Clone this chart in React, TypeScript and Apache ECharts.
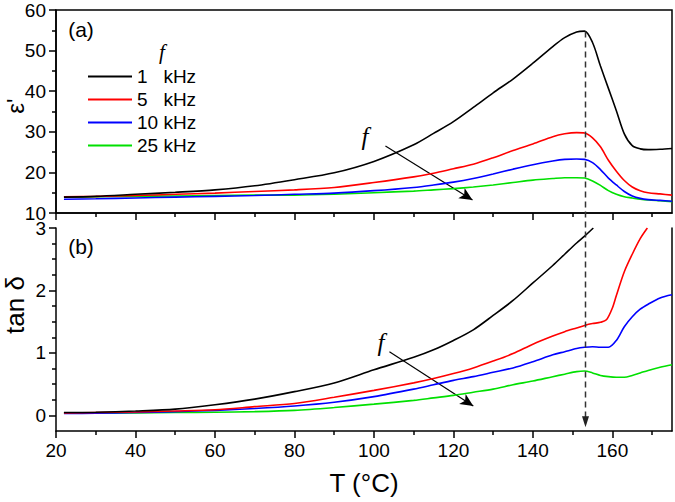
import React, { useEffect, useRef } from "react";
import * as echarts from "echarts";

// Temperature grid (°C) shared by most curves
const T = [22, 30, 40, 50, 60, 70, 80, 90, 100, 110, 115, 120, 125, 130, 135, 140, 145, 148, 151, 153, 155, 157, 159, 161, 163, 165, 167, 169, 172, 175];

// (a) real permittivity ε'
const eps1k = [13.9, 14.1, 14.6, 15.1, 15.7, 16.7, 18.2, 19.9, 22.7, 26.8, 29.6, 32.5, 36.0, 39.6, 43.0, 46.9, 51.0, 53.2, 54.6, 54.8, 52.0, 46.2, 40.7, 35.2, 29.5, 26.6, 25.8, 25.6, 25.7, 25.9];
const eps5k = [14.0, 14.1, 14.3, 14.6, 14.9, 15.3, 15.7, 16.3, 17.5, 18.9, 19.8, 20.9, 22.0, 23.6, 25.4, 27.0, 28.8, 29.5, 29.8, 29.7, 28.5, 26.3, 23.0, 20.3, 18.0, 16.4, 15.5, 15.0, 14.7, 14.4];
const eps10k = [13.4, 13.5, 13.7, 13.9, 14.1, 14.3, 14.6, 14.9, 15.5, 16.3, 16.9, 17.6, 18.5, 19.6, 20.8, 21.9, 22.8, 23.2, 23.3, 23.2, 22.4, 20.7, 18.6, 16.9, 15.3, 14.2, 13.6, 13.3, 13.1, 12.9];
const eps25k = [13.9, 14.0, 14.1, 14.2, 14.3, 14.4, 14.4, 14.6, 15.0, 15.4, 15.7, 16.0, 16.4, 16.9, 17.5, 18.1, 18.5, 18.7, 18.7, 18.6, 17.9, 16.8, 15.5, 14.6, 14.0, 13.7, 13.4, 13.2, 13.0, 12.8];

// (b) loss tangent tan δ
const Ttan1k = [22, 30, 40, 50, 60, 70, 80, 90, 100, 110, 115, 120, 125, 130, 135, 140, 145, 148, 151, 153, 155.2];
const tan1k = [0.045, 0.05, 0.07, 0.10, 0.17, 0.26, 0.38, 0.52, 0.73, 0.93, 1.05, 1.20, 1.37, 1.60, 1.84, 2.12, 2.40, 2.58, 2.76, 2.87, 3.0];
const Ttan5k = [22, 30, 40, 50, 60, 70, 80, 90, 100, 110, 115, 120, 125, 130, 135, 140, 145, 148, 151, 153, 155, 157, 158.5, 160, 161, 163, 165, 167, 168.8];
const tan5k = [0.04, 0.045, 0.055, 0.07, 0.09, 0.14, 0.19, 0.29, 0.40, 0.52, 0.59, 0.67, 0.76, 0.87, 0.99, 1.14, 1.27, 1.34, 1.40, 1.44, 1.47, 1.49, 1.53, 1.72, 1.92, 2.30, 2.58, 2.83, 3.0];
const tan10k = [0.03, 0.035, 0.045, 0.06, 0.08, 0.11, 0.15, 0.21, 0.30, 0.42, 0.49, 0.56, 0.62, 0.69, 0.76, 0.86, 0.97, 1.02, 1.07, 1.09, 1.10, 1.09, 1.09, 1.20, 1.42, 1.58, 1.70, 1.78, 1.88, 1.93];
const tan25k = [0.04, 0.04, 0.04, 0.045, 0.05, 0.06, 0.08, 0.125, 0.18, 0.24, 0.28, 0.32, 0.37, 0.42, 0.49, 0.55, 0.62, 0.66, 0.70, 0.71, 0.68, 0.64, 0.62, 0.61, 0.61, 0.64, 0.68, 0.72, 0.77, 0.81];

const names = ["1   kHz", "5   kHz", "10 kHz", "25 kHz"];
const colors = ["#000000", "#ff0000", "#0000ff", "#00e000"];

const xMajor = [20, 40, 60, 80, 100, 120, 140, 160];
const xMinor = [30, 50, 70, 90, 110, 130, 150, 170];
const epsMajor = [10, 20, 30, 40, 50, 60];
const epsMinor = [15, 25, 35, 45, 55];
const tanMajor = [0, 1, 2, 3];
const tanMinor = [0.25, 0.5, 0.75, 1.25, 1.5, 1.75, 2.25, 2.5, 2.75];

// annotation anchors (data coordinates)
const peakT = 153;
const arrowA = [[102.9, 26.5], [124.8, 13.2]];
const arrowB = [[103.9, 1.02], [125.0, 0.15]];

const FONT = "'Liberation Sans', Arial, sans-serif";
const SERIF = "'Liberation Serif', 'Times New Roman', serif";

function pairs(xs: number[], ys: number[]) {
  return xs.map((x, i) => [x, ys[i]]);
}

export default function App() {
  const ref = useRef<HTMLDivElement>(null);
  useEffect(() => {
    if (!ref.current) return;
    const chart = echarts.init(ref.current, undefined, { renderer: "svg" });
    const line = { color: "#000", width: 1.5 };
    const xAxis = (grid: number, labels: boolean, minor: boolean) => ({
      type: "value",
      gridIndex: grid,
      min: 20,
      max: 175,
      position: "bottom",
      axisLine: { show: !minor, onZero: false, lineStyle: line },
      axisTick: { show: true, inside: false, length: minor ? 4 : 7, customValues: minor ? xMinor : xMajor, lineStyle: line },
      axisLabel: labels && !minor
        ? { show: true, customValues: xMajor, color: "#000", fontSize: 19, fontFamily: FONT, margin: 10 }
        : { show: false },
      splitLine: { show: false },
    });
    const yAxis = (grid: number, min: number, max: number, major: number[], minorV: number[], minor: boolean, fmt?: (v: number) => string) => ({
      type: "value",
      gridIndex: grid,
      min,
      max,
      position: "left",
      axisLine: { show: !minor, onZero: false, lineStyle: line },
      axisTick: { show: true, inside: false, length: minor ? 4 : 7, customValues: minor ? minorV : major, lineStyle: line },
      axisLabel: minor
        ? { show: false }
        : { show: true, customValues: major, color: "#000", fontSize: 19, fontFamily: FONT, margin: 10, formatter: fmt },
      splitLine: { show: false },
    });

    const mk = (pts: number[][]) => ({
      silent: true,
      symbol: ["none", "arrow"],
      symbolSize: [9, 13],
      lineStyle: { color: "#000", width: 1.2, type: "solid" },
      label: { show: false },
      emphasis: { disabled: true },
      data: [[{ coord: pts[0] }, { coord: pts[1] }]],
    });

    const series: any[] = [];
    const epsData = [eps1k, eps5k, eps10k, eps25k];
    epsData.forEach((d, i) => {
      series.push({
        type: "line",
        name: names[i],
        xAxisIndex: 0,
        yAxisIndex: 0,
        data: pairs(T, d),
        showSymbol: false,
        symbol: "none",
        smooth: 0.3,
        lineStyle: { color: colors[i], width: 1.6 },
        itemStyle: { color: colors[i] },
        z: 10 - i,
        markLine: i === 0 ? mk(arrowA) : undefined,
      });
    });
    const tanData = [pairs(Ttan1k, tan1k), pairs(Ttan5k, tan5k), pairs(T, tan10k), pairs(T, tan25k)];
    tanData.forEach((d, i) => {
      series.push({
        type: "line",
        name: names[i],
        xAxisIndex: 2,
        yAxisIndex: 2,
        data: d,
        showSymbol: false,
        symbol: "none",
        smooth: 0.3,
        lineStyle: { color: colors[i], width: 1.6 },
        itemStyle: { color: colors[i] },
        z: 10 - i,
        markLine: i === 0 ? mk(arrowB) : undefined,
      });
    });

    chart.setOption({
      animation: false,
      backgroundColor: "#ffffff",
      grid: [
        { left: 56, top: 10, width: 616, height: 203, show: true, borderColor: "#000", borderWidth: 1.5, backgroundColor: "transparent" },
        { left: 56, top: 228, width: 616, height: 203 },
      ],
      legend: {
        data: names,
        orient: "vertical",
        left: 83,
        top: 62,
        itemWidth: 44,
        itemHeight: 2,
        itemGap: 4,
        icon: "rect",
        selectedMode: false,
        textStyle: { color: "#000", fontSize: 19, fontFamily: FONT, lineHeight: 19 },
      },
      xAxis: [xAxis(0, false, false), xAxis(0, false, true), xAxis(1, true, false), xAxis(1, true, true)],
      yAxis: [
        yAxis(0, 10, 60, epsMajor, epsMinor, false),
        yAxis(0, 10, 60, epsMajor, epsMinor, true),
        yAxis(1, -0.25, 3, tanMajor, tanMinor, false, (v: number) => String(Math.round(v))),
        yAxis(1, -0.25, 3, tanMajor, tanMinor, true),
        {
          type: "value", gridIndex: 1, min: -0.25, max: 3, position: "right",
          axisLine: { show: true, onZero: false, lineStyle: line },
          axisTick: { show: false }, axisLabel: { show: false }, splitLine: { show: false },
        },
      ],
      series,
    });

    const top = chart.convertToPixel({ xAxisIndex: 0, yAxisIndex: 0 }, [peakT, 54.7]) as number[];
    const bot = chart.convertToPixel({ xAxisIndex: 2, yAxisIndex: 2 }, [peakT, -0.19]) as number[];
    const px = Math.round(top[0]) + 0.5;

    const txt = (text: string, x: number, y: number, size: number, extra: any = {}) => ({
      type: "text",
      x,
      y,
      ...extra,
      style: {
        text,
        fill: "#000",
        fontSize: size,
        fontFamily: FONT,
        align: "center",
        verticalAlign: "middle",
        ...(extra.style || {}),
      },
    });

    chart.setOption({
      graphic: [
        txt("(a)", 81, 29, 21),
        txt("(b)", 81, 246, 21),
        txt("f", 162, 52, 21, { style: { fontFamily: SERIF, fontStyle: "italic" } }),
        txt("f", 365, 136, 25, { style: { fontFamily: SERIF, fontStyle: "italic" } }),
        txt("f", 381, 342, 25, { style: { fontFamily: SERIF, fontStyle: "italic" } }),
        txt("ε'", 15, 106, 24, { rotation: Math.PI / 2 }),
        txt("tan δ", 15, 305, 26, { rotation: Math.PI / 2 }),
        txt("T (°C)", 364, 483, 26),
        {
          type: "line",
          shape: { x1: px, y1: top[1], x2: px, y2: bot[1] - 10 },
          style: { stroke: "#333", lineWidth: 1.5, lineDash: [6, 4] },
          z: 100,
        },
        {
          type: "polygon",
          shape: { points: [[px - 3.5, bot[1] - 11], [px + 3.5, bot[1] - 11], [px, bot[1]]] },
          style: { fill: "#222" },
          z: 100,
        },
      ],
    });

    return () => chart.dispose();
  }, []);
  return (
    <div
      ref={ref}
      style={{ position: "absolute", left: 0, top: 0, width: 675, height: 502, background: "#fff" }}
    />
  );
}
